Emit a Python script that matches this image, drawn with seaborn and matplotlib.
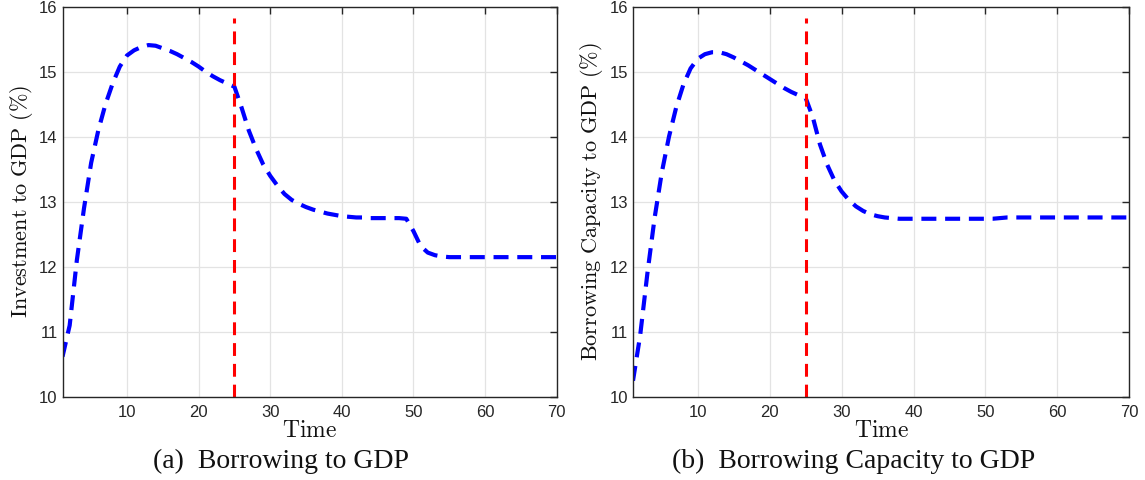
import numpy as np
import pandas as pd
import matplotlib
matplotlib.use("Agg")
import matplotlib.pyplot as plt
import seaborn as sns

# ---------------- data ----------------
time = list(range(1, 71))

investment_gdp = [
    10.62, 11.10, 12.10, 12.90, 13.60, 14.10, 14.50, 14.82, 15.08, 15.25,
    15.33, 15.38, 15.41, 15.40, 15.36, 15.32, 15.27, 15.21, 15.15, 15.08,
    15.00, 14.93, 14.87, 14.82, 14.77, 14.45, 14.10, 13.82, 13.58, 13.40,
    13.25, 13.12, 13.03, 12.97, 12.92, 12.88, 12.85, 12.82, 12.80, 12.78,
    12.77, 12.76, 12.76, 12.75, 12.75, 12.75, 12.75, 12.75, 12.74, 12.55,
    12.32, 12.22, 12.18, 12.16, 12.15, 12.15, 12.15, 12.15, 12.15, 12.15,
    12.15, 12.15, 12.15, 12.15, 12.15, 12.15, 12.15, 12.15, 12.15, 12.15,
]

capacity_gdp = [
    10.25, 10.95, 11.90, 12.75, 13.45, 14.00, 14.45, 14.80, 15.05, 15.20,
    15.27, 15.30, 15.30, 15.27, 15.22, 15.16, 15.10, 15.03, 14.96, 14.89,
    14.82, 14.75, 14.69, 14.64, 14.60, 14.30, 13.88, 13.57, 13.33, 13.16,
    13.03, 12.93, 12.86, 12.81, 12.78, 12.76, 12.75, 12.74, 12.74, 12.74,
    12.74, 12.74, 12.74, 12.74, 12.74, 12.74, 12.74, 12.74, 12.74, 12.74,
    12.74, 12.75, 12.76, 12.76, 12.76, 12.76, 12.76, 12.76, 12.76, 12.76,
    12.76, 12.76, 12.76, 12.76, 12.76, 12.76, 12.76, 12.76, 12.76, 12.76,
]

shock_time = 25
shock_top = 15.83

x_ticks = [10, 20, 30, 40, 50, 60, 70]
y_ticks = [10, 11, 12, 13, 14, 15, 16]

ylabels = [r"$\mathrm{Investment\ to\ GDP\ (\%)}$",
           r"$\mathrm{Borrowing\ Capacity\ to\ GDP\ (\%)}$"]
captions = ["(a)  Borrowing to GDP", "(b)  Borrowing Capacity to GDP"]
xlabel = r"$\mathrm{Time}$"

# ---------------- style ----------------
sns.set_style("white")
plt.rcParams["font.family"] = ["Liberation Sans", "DejaVu Sans"]
plt.rcParams["mathtext.fontset"] = "cm"

fig = plt.figure(figsize=(11.45, 4.8), dpi=100)
W, H = 1145, 480
axes_px = [(62.5, 556.7), (633.0, 1129.3)]
top_px, bot_px = 6.7, 397.0
caption_x = [281, 854]

series = [investment_gdp, capacity_gdp]
for i in range(2):
    l, r = axes_px[i]
    ax = fig.add_axes([l / W, 1 - bot_px / H, (r - l) / W, (bot_px - top_px) / H])
    df = pd.DataFrame({"Time": time, "Value": series[i]})
    ax.grid(True, color="#e3e3e3", linewidth=0.9)
    ax.set_axisbelow(True)
    sns.lineplot(data=df, x="Time", y="Value", ax=ax, color="#0000ff",
                 linewidth=3.0, dashes=False)
    ax.lines[-1].set_dashes((3.6, 2.1))
    ax.axvline(shock_time, ymin=0, ymax=(shock_top - 10) / 6, color="#ff0000",
               linewidth=2.2, dashes=(4.2, 2.6))
    ax.set_xlim(1, 70)
    ax.set_ylim(10, 16)
    ax.set_xticks(x_ticks)
    ax.set_yticks(y_ticks)
    ax.tick_params(direction="in", length=5, width=1.0, colors="#262626",
                   labelsize=12, top=True, right=True, labelcolor="#262626")
    ax.tick_params(axis="x", pad=6)
    ax.tick_params(axis="y", pad=3.5)
    for s in ax.spines.values():
        s.set_color("#262626")
        s.set_linewidth(1.0)
        s.set_visible(True)
    ax.set_xlabel(xlabel, fontsize=17, labelpad=0, color="#111111")
    ax.set_ylabel(ylabels[i], fontsize=16, labelpad=3, color="#111111")
    fig.text(caption_x[i] / W, 1 - 461 / H, captions[i], ha="center",
             va="center", fontsize=20, family=["Liberation Serif", "DejaVu Serif"],
             color="#111111")

fig.savefig("out.png", dpi=100)
